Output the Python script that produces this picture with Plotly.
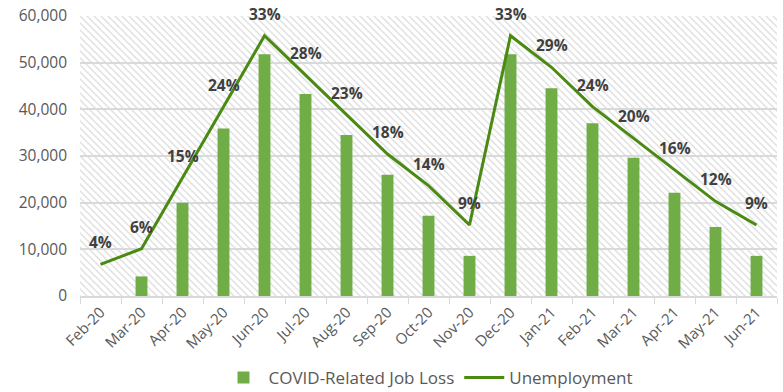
import base64
import plotly.graph_objects as go

# Monthly series
months = ["Feb-20", "Mar-20", "Apr-20", "May-20", "Jun-20", "Jul-20", "Aug-20",
          "Sep-20", "Oct-20", "Nov-20", "Dec-20", "Jan-21", "Feb-21", "Mar-21",
          "Apr-21", "May-21", "Jun-21"]
job_loss = [0, 4200, 20000, 35900, 51800, 43300, 34500, 26000, 17200, 8600,
            51800, 44500, 37000, 29600, 22100, 14800, 8600]
unemployment_pct = [4, 6, 15, 24, 33, 28, 23, 18, 14, 9, 33, 29, 24, 20, 16, 12, 9]
y_ticks = [0, 10000, 20000, 30000, 40000, 50000, 60000]

BAR_GREEN = "#70AD47"
LINE_GREEN = "#4A8A12"
GRID = "#D9D9D9"
TEXT = "#595959"
LABEL = "#404040"
FONT = "'Open Sans', Lato, sans-serif"

W, H = 783, 392
M = dict(l=80, r=6, t=16, b=96)
PW, PH = W - M["l"] - M["r"], H - M["t"] - M["b"]

fig = go.Figure()

fig.add_trace(go.Bar(
    x=months, y=job_loss, name="COVID-Related Job Loss",
    marker=dict(color=BAR_GREEN, line=dict(width=0)),
    yaxis="y",
))

fig.add_trace(go.Scatter(
    x=months, y=unemployment_pct, name="Unemployment",
    mode="lines", line=dict(color=LINE_GREEN, width=3),
    yaxis="y2",
))

# Percentage labels above each point of the unemployment line
for m, p in zip(months, unemployment_pct):
    fig.add_annotation(
        x=m, y=p, xref="x", yref="y2", text=f"<b>{p}%</b>",
        showarrow=False, yshift=22,
        font=dict(family=FONT, size=15.5, color=LABEL),
    )

# Diagonal hatch texture for the plotting area
hatch_svg = (
    f"<svg xmlns='http://www.w3.org/2000/svg' width='{PW}' height='{PH}' "
    f"viewBox='0 0 {PW} {PH}' preserveAspectRatio='none'>"
    "<defs><pattern id='h' patternUnits='userSpaceOnUse' width='7' height='7'>"
    "<path d='M-1,-1 L8,8 M-1,6 L1,8 M6,-1 L8,1' stroke='#E0E0E0' "
    "stroke-width='1.5' fill='none'/></pattern></defs>"
    "<rect width='100%' height='100%' fill='#ffffff'/>"
    "<rect width='100%' height='100%' fill='url(#h)'/></svg>"
)
hatch_uri = "data:image/svg+xml;base64," + base64.b64encode(hatch_svg.encode()).decode()

fig.add_layout_image(
    source=hatch_uri, xref="paper", yref="paper", x=0, y=1,
    sizex=1, sizey=1, xanchor="left", yanchor="top",
    sizing="stretch", layer="below",
)

fig.update_layout(
    width=W, height=H,
    margin=M,
    paper_bgcolor="white", plot_bgcolor="white",
    font=dict(family=FONT, color=TEXT),
    bargap=0.71,
    showlegend=True,
    legend=dict(
        orientation="h", x=0.5, xanchor="center",
        yref="container", y=0.036, yanchor="middle",
        font=dict(family=FONT, size=17, color=TEXT),
        itemwidth=40, tracegroupgap=0,
    ),
    xaxis=dict(
        type="category", range=[-0.5, len(months) - 0.5],
        tickangle=-45, tickfont=dict(family=FONT, size=15, color=TEXT),
        showline=True, linecolor=GRID, linewidth=1.5,
        ticks="outside", tickson="boundaries", ticklen=6, tickcolor=GRID,
        showgrid=False, automargin=False,
    ),
    yaxis=dict(
        range=[0, 60000], tickvals=y_ticks, tickformat=",",
        tickfont=dict(family=FONT, size=15.5, color=TEXT),
        showgrid=True, gridcolor=GRID, gridwidth=1.5,
        zeroline=False, showline=False, ticklabelstandoff=12,
        automargin=False,
    ),
    yaxis2=dict(
        overlaying="y", range=[0, 35.5], visible=False,
    ),
)

fig.write_html("out.html")
